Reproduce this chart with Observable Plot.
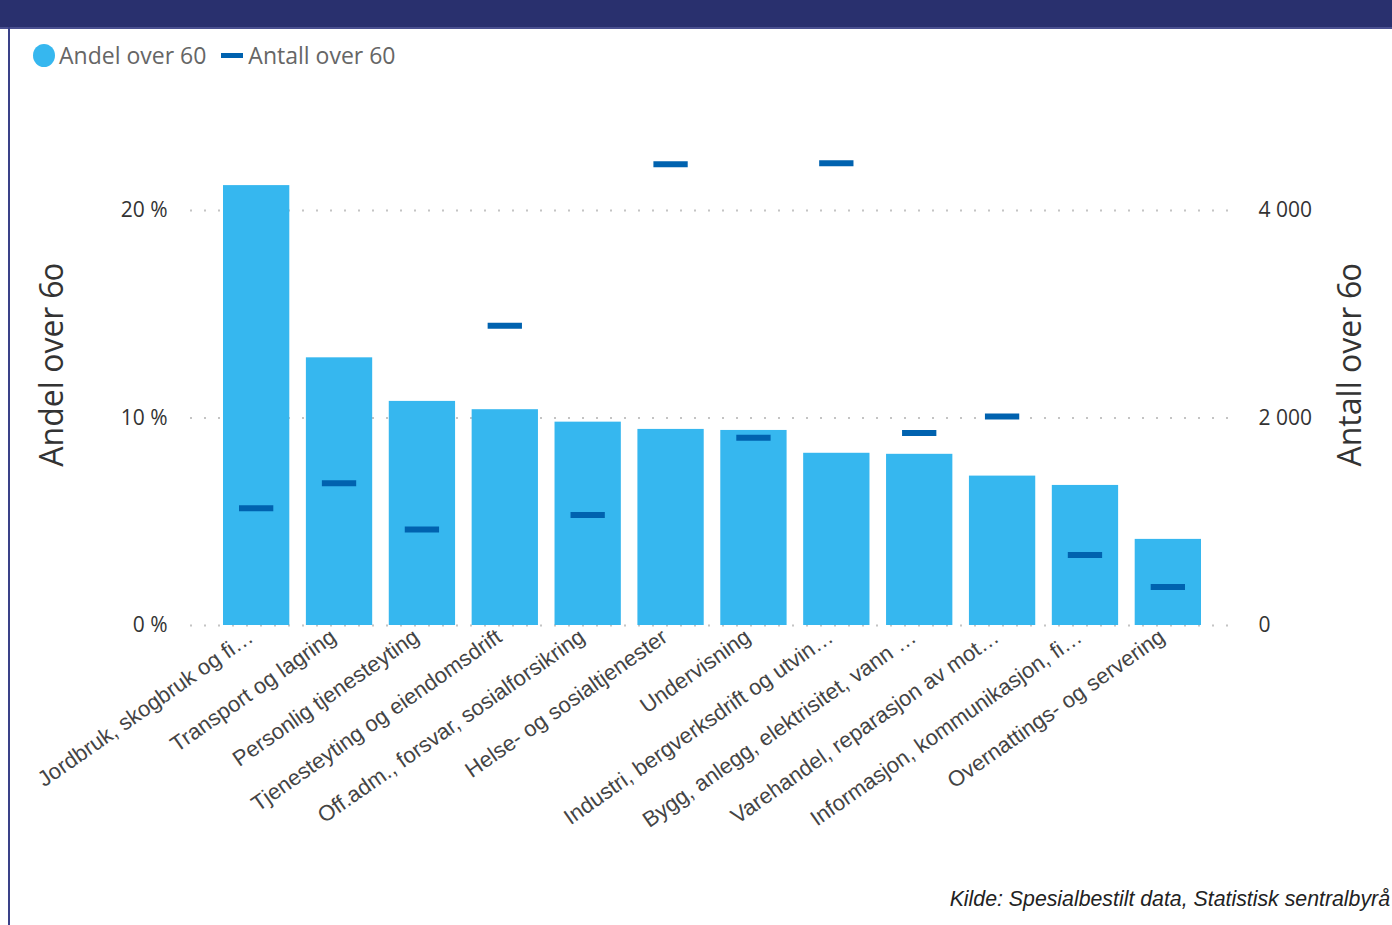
<!DOCTYPE html>
<html>
<head>
<meta charset="utf-8">
<script src="https://cdn.jsdelivr.net/npm/d3@7"></script>
<script src="https://cdn.jsdelivr.net/npm/@observablehq/plot@0.6"></script>
<style>
  html, body { margin: 0; padding: 0; background: #fff; }
  #wrap { position: relative; width: 1392px; height: 925px; overflow: hidden; background: #fff; }
  #banner { position: absolute; left: 0; top: 0; width: 1392px; height: 27px; background: #29306E; z-index: 3; }
  #bannerline { position: absolute; left: 0; top: 27px; width: 1392px; height: 2px; background: #4A5090; z-index: 3; }
  #leftborder { position: absolute; left: 8px; top: 27px; width: 2px; height: 898px; background: #3A4188; z-index: 3; }
  #chart { position: absolute; left: 0; top: 0; z-index: 1; }
  #legend { position: absolute; left: 33px; top: 40px; height: 30px; display: flex; align-items: center; font-family: "Open Sans", sans-serif; font-size: 23px; color: #666; z-index: 2; white-space: nowrap; }
  .sw-dot { width: 22px; height: 23px; border-radius: 50%; background: #36B7EF; margin-right: 4px; }
  .sw-dash { width: 22px; height: 5px; background: #0062AF; margin: 0 5px 0 15px; }
  .ytitle { position: absolute; transform: translate(-50%, -50%) rotate(-90deg); font-family: "Open Sans", sans-serif; font-size: 32px; color: #333; white-space: nowrap; font-feature-settings: "onum" 1; font-variant-numeric: oldstyle-nums; z-index: 2; }
  #caption { position: absolute; right: 2px; top: 887px; font-family: "Liberation Sans", Arial, sans-serif; font-style: italic; font-size: 21.3px; color: #222; z-index: 2; white-space: nowrap; }
</style>
</head>
<body>
<div id="wrap">
  <div id="banner"></div>
  <div id="bannerline"></div>
  <div id="leftborder"></div>
  <div id="chart"></div>
  <div id="legend"><span class="sw-dot"></span><span>Andel over 60</span><span class="sw-dash"></span><span>Antall over 60</span></div>
  <div class="ytitle" style="left:50px; top:365px;">Andel over 60</div>
  <div class="ytitle" style="left:1348px; top:365px;">Antall over 60</div>
  <div id="caption">Kilde: Spesialbestilt data, Statistisk sentralbyrå</div>
</div>
<script>
// Categories (næring), as truncated in the original chart
const categories = [
  "Jordbruk, skogbruk og fi…",
  "Transport og lagring",
  "Personlig tjenesteyting",
  "Tjenesteyting og eiendomsdrift",
  "Off.adm., forsvar, sosialforsikring",
  "Helse- og sosialtjenester",
  "Undervisning",
  "Industri, bergverksdrift og utvin…",
  "Bygg, anlegg, elektrisitet, vann …",
  "Varehandel, reparasjon av mot…",
  "Informasjon, kommunikasjon, fi…",
  "Overnattings- og servering"
];
// Andel over 60 (%)
const andelOver60 = [21.2, 12.9, 10.8, 10.4, 9.8, 9.45, 9.4, 8.3, 8.25, 7.2, 6.75, 4.15];
// Antall over 60 (persons)
const antallOver60 = [1130, 1370, 925, 2890, 1065, 4445, 1810, 4455, 1855, 2015, 680, 370];
// Axis ticks
const leftTicks = [0, 10, 20];        // percent
const rightTicks = [0, 2000, 4000];   // persons
const ratio = 200;                    // 4 000 persons <-> 20 %

const data = categories.map((kat, i) => ({kat, andel: andelOver60[i], antall: antallOver60[i]}));
const nb = d3.formatLocale({decimal: ",", thousands: " ", grouping: [3], currency: ["", " kr"]});
const fmtNum = nb.format(",d");

const chart = Plot.plot({
  width: 1392,
  height: 925,
  marginTop: 127,
  marginBottom: 300,
  marginLeft: 190,
  marginRight: 154,
  style: {background: "transparent", color: "#333", fontFamily: "'Open Sans', sans-serif"},
  x: {domain: categories, range: [223, 1201], paddingInner: 0.2, paddingOuter: 0, align: 0.5, round: false},
  y: {domain: [0, 24]},
  marks: [
    Plot.gridY(leftTicks, {stroke: "#c4c4c4", strokeOpacity: 1, strokeWidth: 2, strokeDasharray: "2 12"}),
    Plot.barY(data, {x: "kat", y: "andel", fill: "#36B7EF"}),
    Plot.tickY(data, {x: "kat", y: d => d.antall / ratio, stroke: "#0062AF", strokeWidth: 6, insetLeft: 16, insetRight: 16}),
    Plot.axisY(leftTicks, {anchor: "left", tickSize: 0, tickPadding: 23, tickFormat: d => `${d} %`, label: null, fontSize: 21, fill: "#333"}),
    Plot.axisY(rightTicks.map(v => v / ratio), {anchor: "right", tickSize: 0, tickPadding: 20, tickFormat: d => fmtNum(Math.round(d * ratio)), label: null, fontSize: 21, fill: "#333"}),
    Plot.axisX({tickSize: 0, tickPadding: 9, tickRotate: -35, dx: -6, label: null, fontSize: 22, fontFamily: "'Liberation Sans', Arial, sans-serif", fill: "#444"})
  ]
});
document.getElementById("chart").appendChild(chart);
</script>
</body>
</html>
